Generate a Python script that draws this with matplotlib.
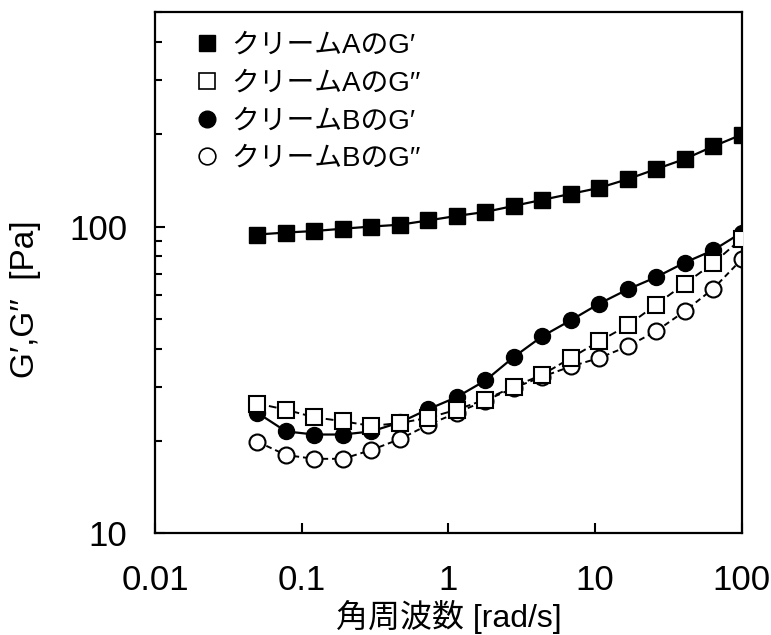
import matplotlib
matplotlib.use("Agg")
import matplotlib.pyplot as plt
from matplotlib.lines import Line2D
from matplotlib.ticker import LogLocator, NullFormatter, FixedLocator

# Fonts: Latin in Liberation Sans, kana/kanji fall back to Noto Sans CJK JP
plt.rcParams['font.family'] = ['Liberation Sans', 'Noto Sans CJK JP', 'DejaVu Sans']

# Angular frequency [rad/s]
freq = [0.05, 0.0782, 0.122, 0.191, 0.299, 0.468, 0.731, 1.14, 1.79,
        2.80, 4.37, 6.84, 10.7, 16.7, 26.1, 40.9, 63.9, 100]

# Storage / loss modulus [Pa]
a_g1 = [94.2, 95.6, 96.7, 98.4, 100.0, 101.4, 104.7, 108.3, 111.6,
        116.8, 122.2, 127.8, 133.7, 142.7, 153.9, 166.0, 182.5, 199.3]
a_g2 = [26.5, 25.3, 23.9, 23.2, 22.4, 22.9, 23.8, 25.3, 27.3,
        30.1, 32.9, 37.3, 42.3, 47.6, 55.7, 65.1, 75.9, 91.4]
b_g1 = [24.7, 21.5, 21.0, 21.0, 21.5, 23.0, 25.4, 27.8, 31.5,
        37.6, 43.9, 49.5, 56.1, 62.4, 68.4, 76.3, 83.7, 95.6]
b_g2 = [19.9, 18.0, 17.5, 17.5, 18.7, 20.3, 22.6, 24.7, 27.1,
        29.8, 32.4, 35.0, 37.3, 40.7, 45.6, 53.0, 62.7, 78.2]

labels = ['クリームAのG′', 'クリームAのG′′', 'クリームBのG′', 'クリームBのG′′']

fig = plt.figure(figsize=(7.71, 6.35), dpi=100)
ax = fig.add_axes([0.201, 0.160, 0.761, 0.821])

ms = 11.5
ax.plot(freq, b_g2, color='black', lw=1.4, ls=(0, (3, 2)), marker='o', ms=ms,
        mfc='white', mec='black', mew=1.5, zorder=2)
ax.plot(freq, b_g1, color='black', lw=1.6, ls='-', marker='o', ms=ms,
        mfc='black', mec='black', zorder=3)
ax.plot(freq, a_g2, color='black', lw=1.4, ls=(0, (4, 2)), marker='s', ms=ms - 0.5,
        mfc='white', mec='black', mew=1.5, zorder=4)
ax.plot(freq, a_g1, color='black', lw=1.6, ls='-', marker='s', ms=ms - 0.5,
        mfc='black', mec='black', zorder=5)

ax.set_xscale('log')
ax.set_yscale('log')
ax.set_xlim(0.01, 100)
ax.set_ylim(10, 500)

ax.xaxis.set_major_locator(FixedLocator([0.01, 0.1, 1, 10, 100]))
ax.set_xticklabels(['0.01', '0.1', '1', '10', '100'])
ax.xaxis.set_minor_locator(plt.NullLocator())
ax.yaxis.set_major_locator(FixedLocator([10, 100]))
ax.set_yticklabels(['10', '100'])
ax.yaxis.set_minor_locator(LogLocator(base=10, subs=range(2, 10)))
ax.yaxis.set_minor_formatter(NullFormatter())

ax.tick_params(axis='both', which='major', direction='in', length=7, width=1.5,
               labelsize=25, pad=22)
ax.tick_params(axis='y', which='minor', direction='in', length=5, width=1.5)
ax.tick_params(axis='y', which='major', pad=20)
for sp in ax.spines.values():
    sp.set_linewidth(1.6)

ax.set_xlabel('角周波数 [rad/s]', fontsize=23, labelpad=2)
ax.set_ylabel('G′,G′′  [Pa]', fontsize=24)
ax.yaxis.set_label_coords(-0.195, 0.45)

handles = [
    Line2D([], [], ls='none', marker='s', ms=ms, mfc='black', mec='black'),
    Line2D([], [], ls='none', marker='s', ms=ms, mfc='white', mec='black', mew=1.2),
    Line2D([], [], ls='none', marker='o', ms=ms + 0.5, mfc='black', mec='black'),
    Line2D([], [], ls='none', marker='o', ms=ms + 0.5, mfc='white', mec='black', mew=1.2),
]
ax.legend(handles, labels, loc='upper left', bbox_to_anchor=(0.03, 1.0),
          frameon=False, fontsize=20, handlelength=1.0, handletextpad=0.35,
          labelspacing=0.42, borderaxespad=0.35)

fig.savefig('out.png', dpi=100)
